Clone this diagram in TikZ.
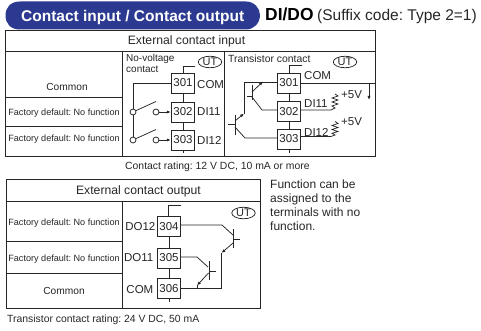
\documentclass[tikz,border=0pt]{standalone}
\usepackage{fontspec}
\setmainfont{Liberation Sans}
\usetikzlibrary{arrows.meta,shapes.geometric}
\definecolor{hdr}{HTML}{2B3990}
\definecolor{ink}{HTML}{262626}
\frenchspacing
\tikzset{
  x=1pt,y=-1pt,
  frame/.style={draw=ink,line width=0.85pt},
  wire/.style={draw=ink,line width=0.75pt},
  termbox/.style={draw=ink,line width=0.85pt,fill=white,minimum width=23.5pt,minimum height=20pt,inner sep=0pt,font=\fontsize{11.5}{11.5}\selectfont,text=ink},
  termlabel/.style={inner sep=0pt,font=\fontsize{11.5}{11.5}\selectfont,text=ink},
  headtext/.style={inner sep=0pt,font=\fontsize{12.2}{12.2}\selectfont,text=ink},
  celltext/.style={inner sep=0pt,font=\fontsize{10.2}{10.2}\selectfont,text=ink},
  smalltext/.style={inner sep=0pt,font=\fontsize{9.1}{9.1}\selectfont,text=ink},
  ratingtext/.style={inner sep=0pt,font=\fontsize{10.4}{10.4}\selectfont,text=ink},
  toptext/.style={inner sep=0pt,font=\fontsize{10}{11}\selectfont,text=ink},
  notetext/.style={inner sep=0pt,font=\fontsize{12}{14}\selectfont,text=ink},
  utmark/.style={draw=ink,line width=0.75pt,ellipse,inner sep=0pt,minimum width=23.5pt,minimum height=11.5pt,font=\fontsize{11}{11}\selectfont,text=ink},
  opencontact/.style={draw=ink,fill=white,line width=0.75pt,circle,inner sep=0pt,minimum size=6pt},
  tip/.style={-{Latex[length=4pt,width=3.2pt]}},
}
\begin{document}
\begin{tikzpicture}
\useasboundingbox (0,0) rectangle (481,331);
% Header
\fill[hdr] (20,1.5) -- (246,1.5) .. controls (254,1.5) and (260,8) .. (260,15) .. controls (260,23) and (254,29.5) .. (246,29.5) -- (20,29.5) .. controls (10,29.5) and (5.5,23) .. (5.5,15.5) .. controls (5.5,8) and (10,1.5) .. (20,1.5) -- cycle;
\node[anchor=base west,inner sep=0pt,text=white,font=\bfseries\fontsize{15.5}{15.5}\selectfont] (title) at (21,21.5) {Contact input / Contact output};
\node[anchor=base west,inner sep=0pt,font=\bfseries\fontsize{17.4}{17.4}\selectfont,text=black] (didot) at (265,21) {DI/DO};
\node[anchor=base west,inner sep=0pt,font=\fontsize{15.5}{15.5}\selectfont,text=ink] (suffix) at (317,21) {(Suffix code: Type 2=1)};
% Input table
\draw[frame] (5,30) rectangle (375,156);
\draw[frame] (5,51) -- (375,51);
\draw[frame] (122,51) -- (122,156);
\draw[frame] (224,51) -- (224,156);
\draw[frame] (5,97) -- (122,97);
\draw[frame] (5,126) -- (122,126);
\node[headtext] (t1) at (186.5,41) {External contact input};
\node[celltext] (c1) at (67,87) {Common};
\node[smalltext] (f1) at (64,113) {Factory default: No function};
\node[smalltext] (f2) at (64,139.5) {Factory default: No function};
\node[toptext,anchor=north west,align=left] (nv) at (126,54.5) {No-voltage\\contact};
\node[utmark] (ut1) at (210,62) {UT};
\node[toptext,anchor=west,font=\fontsize{10.4}{10.4}\selectfont] (tc) at (228,59) {Transistor contact};
\node[utmark] (ut2) at (345,62) {UT};
% left terminals
\node[termbox] (t301) at (183,83) {301};
\node[termbox] (t302) at (183,112) {302};
\node[termbox] (t303) at (183,140) {303};
\coordinate (lt1) at (183,66);
\coordinate (lt2) at (195,66);
\coordinate (lb) at (183,153);
\draw[wire] (lt2) -- (lt1) -- (t301.north);
\draw[wire] (t301) -- (t302);
\draw[wire] (t302) -- (t303);
\draw[wire] (t303) -- (lb);
\node[termlabel,anchor=west] (l301) at (197,85) {COM};
\node[termlabel,anchor=west] (l302) at (197,112) {DI11};
\node[termlabel,anchor=west] (l303) at (197,140.5) {DI12};
\node[opencontact] (a1) at (133,112) {};
\node[opencontact] (a2) at (133,140) {};
\node[opencontact] (b1) at (156,112) {};
\node[opencontact] (b2) at (156,140) {};
\coordinate (s1) at (156,101.5);
\coordinate (s2) at (156,129.5);
\draw[wire] (t301.west) -- (133,83) -- (a1) -- (a2);
\draw[wire] (a1) -- (s1);
\draw[wire] (a2) -- (s2);
\draw[wire,tip] (b1) -- (t302.west);
\draw[wire,tip] (b2) -- (t303.west);
% right terminals
\node[termbox] (r301) at (289,83) {301};
\node[termbox] (r302) at (289,111.5) {302};
\node[termbox] (r303) at (289,139) {303};
\coordinate (rt1) at (289,65);
\coordinate (rt2) at (302,65);
\coordinate (rb) at (289,153);
\draw[wire] (rt2) -- (rt1) -- (r301.north);
\draw[wire] (r301) -- (r302);
\draw[wire] (r302) -- (r303);
\draw[wire] (r303) -- (rb);
\node[termlabel,anchor=west] (lr1) at (304,76) {COM};
\node[termlabel,anchor=west] (lr2) at (304,104) {DI11};
\node[termlabel,anchor=west] (lr3) at (304,132) {DI12};
\node[termlabel,anchor=west] (v1) at (341,95) {+5V};
\node[termlabel,anchor=west] (v2) at (341,122) {+5V};
\coordinate (busend) at (375,83);
\coordinate (arrtop) at (369,83);
\coordinate (arrbot) at (369,100);
\draw[wire] (r301.east) -- (busend);
\draw[wire,tip] (arrtop) -- (arrbot);
\draw[wire] (300.75,110) -- (331,110) -- (335,108) -- (332,106) -- (338,104) -- (332,102) -- (338,100) -- (332,98) -- (338,96) -- (335,94);
\draw[wire] (300.75,136.5) -- (331,136.5) -- (335,135) -- (332,133.3) -- (338,131.5) -- (332,129.5) -- (338,127.5) -- (332,125.5) -- (338,123.5) -- (335,121.5);
% transistors left
\coordinate (q1c) at (263,81.5);
\coordinate (q1a) at (252,92);
\coordinate (q1e) at (252,97);
\coordinate (q1k) at (262,110);
\draw[wire] (244,114) -- (244,82) -- (277.25,82);
\draw[wire] (252,85) -- (252,100);
\draw[wire] (247,96) -- (252,96);
\draw[wire,tip] (q1a) -- (q1c);
\draw[wire] (q1e) -- (q1k) -- (277.25,110);
\draw[wire] (235,115) -- (235,135);
\draw[wire] (228,124) -- (235,124);
\draw[wire,tip] (235,121) -- (244,113.5);
\draw[wire] (235,127) -- (245,138) -- (277.25,138);
% Output table
\draw[frame] (6,179) rectangle (260,308);
\draw[frame] (6,201) -- (260,201);
\draw[frame] (122,201) -- (122,308);
\draw[frame] (6,241) -- (122,241);
\draw[frame] (6,273) -- (122,273);
\node[headtext] (t2) at (138.5,191) {External contact output};
\node[smalltext] (f3) at (64,223) {Factory default: No function};
\node[smalltext] (f4) at (64,259) {Factory default: No function};
\node[celltext] (c2) at (64,291) {Common};
\node[utmark] (ut3) at (243.5,213) {UT};
\node[termbox] (t304) at (169,226.5) {304};
\node[termbox] (t305) at (169,258) {305};
\node[termbox] (t306) at (169,288.5) {306};
\coordinate (ot1) at (168.5,205);
\coordinate (ot2) at (181,205);
\coordinate (ob) at (169,302);
\draw[wire] (ot2) -- (ot1) -- (t304.north -| ot1);
\draw[wire] (t304) -- (t305);
\draw[wire] (t305) -- (t306);
\draw[wire] (t306) -- (ob);
\node[termlabel,anchor=east] (d1) at (155.5,227) {DO12};
\node[termlabel,anchor=east] (d2) at (153.5,258) {DO11};
\node[termlabel,anchor=east] (d3) at (153.5,290) {COM};
% output transistors
\draw[wire] (180.75,225) -- (222,225) -- (233,235);
\draw[wire] (233,229) -- (233,248);
\draw[wire] (233,239) -- (240,239);
\draw[wire,tip] (233,243) -- (221.5,253);
\draw[wire] (180.75,288) -- (221,288) -- (221,253);
\draw[wire] (180.75,257) -- (197,257) -- (208,267);
\draw[wire] (209,261) -- (209,280);
\draw[wire] (209,271) -- (216,271);
\draw[wire,tip] (208.5,273) -- (197,285.5);
\draw[wire] (197,285) -- (197,288);
% Notes
\node[notetext,anchor=north west,align=left] (n1) at (270,179.5) {Function can be\\assigned to the\\terminals with no\\function.};
\node[ratingtext,anchor=base west] (r1) at (125,169) {Contact rating: 12 V DC, 10 mA or more};
\node[ratingtext,anchor=base west] (r2) at (7,322) {Transistor contact rating: 24 V DC, 50 mA};
\end{tikzpicture}
\end{document}
